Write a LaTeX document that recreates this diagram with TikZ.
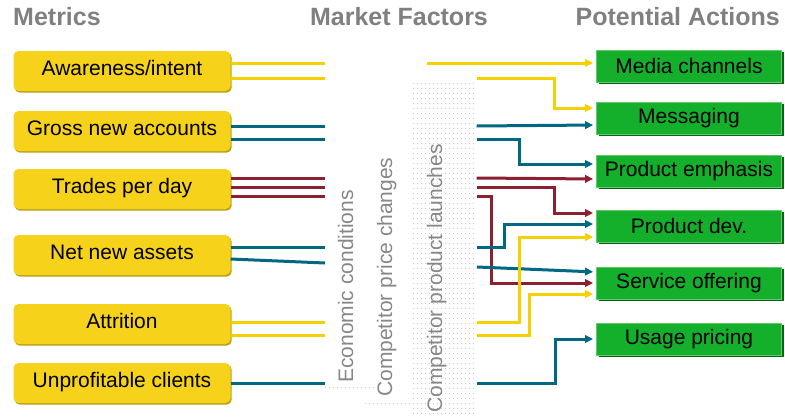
\documentclass[tikz,border=0pt]{standalone}
\usepackage{fontspec}
\setmainfont{Liberation Sans}
\usetikzlibrary{arrows.meta}
\usetikzlibrary{calc}

\definecolor{metricfill}{RGB}{246,210,26}
\definecolor{metricshade}{RGB}{190,160,20}
\definecolor{actionfill}{RGB}{20,176,44}
\definecolor{actionedge}{RGB}{100,200,110}
\definecolor{actionshade}{RGB}{10,100,22}
\definecolor{goldline}{RGB}{246,208,0}
\definecolor{tealline}{RGB}{0,104,130}
\definecolor{wineline}{RGB}{140,32,48}
\definecolor{headgray}{RGB}{128,128,128}
\definecolor{factorgray}{RGB}{135,135,135}

\begin{document}
\begin{tikzpicture}[x=1pt, y=-1pt,
        head_style/.style={inner sep=0, text=headgray, font=\fontsize{25}{30}\selectfont\bfseries},
        metric_style/.style={rounded corners=5pt, fill=metricfill, minimum width=217pt, minimum height=40pt, inner sep=0, text height=14pt, text depth=6pt, font=\fontsize{21}{25}\selectfont,
            preaction={fill=metricshade, transform canvas={xshift=1.2pt, yshift=-1.6pt}}},
        action_style/.style={fill=actionfill, draw=actionedge, line width=0.8pt, minimum width=185pt, minimum height=32pt, inner sep=0, font=\fontsize{21}{25}\selectfont,
            preaction={fill=actionshade, transform canvas={xshift=2pt, yshift=-2pt}}},
        factor_style/.style={rotate=90, anchor=base west, inner sep=0, text=factorgray, font=\fontsize{21}{25}\selectfont},
        dot_style/.style={draw=gray!40, line width=0.7pt, dash pattern=on 0.7pt off 3.3pt},
        gold_edge_style/.style={draw=goldline, line width=3pt},
        teal_edge_style/.style={draw=tealline, line width=3pt},
        wine_edge_style/.style={draw=wineline, line width=3pt},
        to_action/.style={-{Triangle[length=8pt, width=7.5pt]}, shorten >=3pt}]

        \useasboundingbox (0,0) rectangle (785,418);

        % headers
        \node [head_style, anchor=west] (h_metrics) at (13,17) {Metrics};
        \node [head_style] (h_factors) at (399,17) {Market Factors};
        \node [head_style, anchor=east] (h_actions) at (780,17) {Potential Actions};

        % market factor panels
        \node [inner sep=0, minimum width=63pt, minimum height=333pt] (launch_panel) at (445,248) {};
        \foreach \k in {2,7,...,332}
            \draw [dot_style] ([yshift=-\k pt]launch_panel.north west) -- ([yshift=-\k pt]launch_panel.north east);
        \draw [dot_style] (325,387) -- (377,387);
        \draw [dot_style] (365,403) -- (423,403);
        \node [factor_style] (econ) at (353,383) {Economic conditions};
        \node [factor_style] (price) at (392,397) {Competitor price changes};
        \node [factor_style] (launch) at (442,413) {Competitor product launches};

        % metrics
        \node [metric_style] (m1) at (122,71) {Awareness/intent};
        \node [metric_style] (m2) at (122,131) {Gross new accounts};
        \node [metric_style] (m3) at (122,189) {Trades per day};
        \node [metric_style] (m4) at (122,255) {Net new assets};
        \node [metric_style] (m5) at (122,324) {Attrition};
        \node [metric_style] (m6) at (122,383) {Unprofitable clients};

        % actions
        \node [action_style] (p1) at (689,66) {Media channels};
        \node [action_style] (p2) at (689,118) {Messaging};
        \node [action_style] (p3) at (689,171) {Product emphasis};
        \node [action_style] (p4) at (689,226) {Product dev.};
        \node [action_style] (p5) at (689,283) {Service offering};
        \node [action_style] (p6) at (689,339) {Usage pricing};

        % where the links meet the factors
        \coordinate (a1) at (325,63);
        \coordinate (a2) at (325,78);
        \coordinate (g1) at (325,126);
        \coordinate (g2) at (325,139);
        \coordinate (t1) at (325,178);
        \coordinate (t2) at (325,187);
        \coordinate (t3) at (325,196);
        \coordinate (n1) at (325,247);
        \coordinate (n2) at (325,263);
        \coordinate (r1) at (325,322);
        \coordinate (r2) at (325,335);
        \coordinate (u1) at (325,383);
        \coordinate (a1r) at (427,63);
        \coordinate (n2r) at (477,267);

        \draw [gold_edge_style] (m1.east |- a1) -- (a1);
        \draw [gold_edge_style] (m1.east |- a2) -- (a2);
        \draw [gold_edge_style, to_action] (a1r) -- ([yshift=3pt]p1.west);
        \draw [gold_edge_style, to_action] (a2 -| launch_panel.east) -- ++(78,0) |- ([yshift=10pt]p2.west);

        \draw [teal_edge_style] (m2.east |- g1) -- (g1);
        \draw [teal_edge_style] (m2.east |- g2) -- (g2);
        \draw [teal_edge_style, to_action] (g1 -| launch_panel.east) -- ([yshift=-7pt]p2.west);
        \draw [teal_edge_style, to_action] (g2 -| launch_panel.east) -- ++(43,0) |- ([yshift=7pt]p3.west);

        \draw [wine_edge_style] (m3.east |- t1) -- (t1);
        \draw [wine_edge_style] (m3.east |- t2) -- (t2);
        \draw [wine_edge_style] (m3.east |- t3) -- (t3);
        \draw [wine_edge_style, to_action] (t1 -| launch_panel.east) -- ([yshift=-8pt]p3.west);
        \draw [wine_edge_style, to_action] (t2 -| launch_panel.east) -- ++(78,0) |- ([yshift=13pt]p4.west);
        \draw [wine_edge_style, to_action] (t3 -| launch_panel.east) -- ++(15,0) |- (p5.west);

        \draw [teal_edge_style] (m4.east |- n1) -- (n1);
        \draw [teal_edge_style] ([yshift=-4pt]m4.east) -- (n2);
        \draw [teal_edge_style, to_action] (n1 -| launch_panel.east) -- ++(28,0) |- ([yshift=2pt]p4.west);
        \draw [teal_edge_style, to_action] (n2r) -- ([yshift=11pt]p5.west);

        \draw [gold_edge_style] (m5.east |- r1) -- (r1);
        \draw [gold_edge_style] (m5.east |- r2) -- (r2);
        \draw [gold_edge_style, to_action] (r1 -| launch_panel.east) -- ++(43,0) |- ([yshift=-11pt]p4.west);
        \draw [gold_edge_style, to_action] (r2 -| launch_panel.east) -- ++(53,0) |- ([yshift=-11pt]p5.west);

        \draw [teal_edge_style] (m6.east |- u1) -- (u1);
        \draw [teal_edge_style, to_action] (u1 -| launch_panel.east) -- ++(79,0) |- (p6.west);
\end{tikzpicture}
\end{document}
